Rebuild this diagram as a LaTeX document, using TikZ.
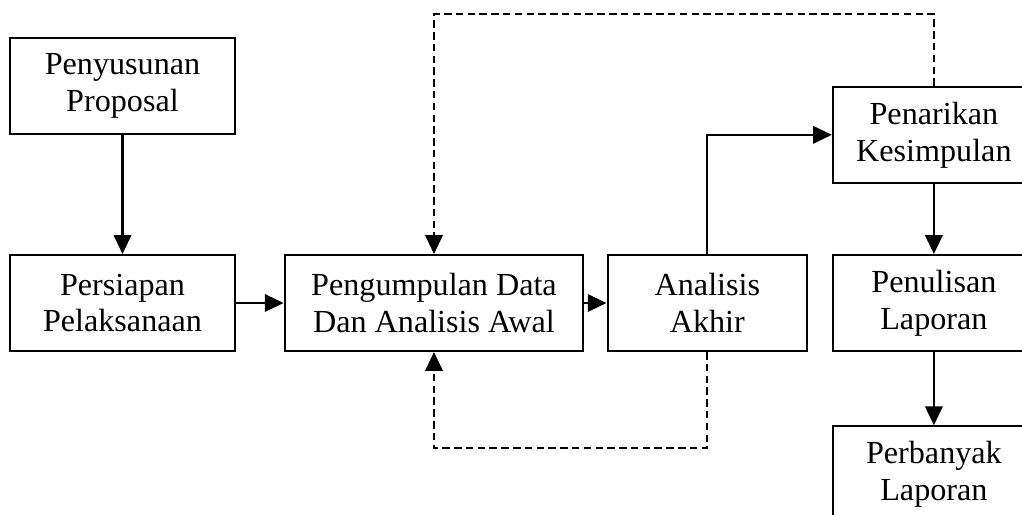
\documentclass[tikz,border=0pt]{standalone}
\usepackage{fontspec}
\setmainfont{Liberation Serif}
\usepackage{tikz}
\usetikzlibrary{arrows.meta,positioning,calc}
\tikzset{
  stepbox/.style={rectangle,draw=black,line width=0.75pt,fill=white,minimum width=2.96cm,minimum height=1.26cm,align=center,font=\fontsize{12}{13.8}\selectfont},
  arrow/.style={-{Triangle[length=7pt,width=6.5pt]},line width=0.75pt},
  back/.style={-{Triangle[length=7pt,width=6.5pt]},line width=0.75pt,dash pattern=on 2.8pt off 1.6pt}
}
\begin{document}
\begin{tikzpicture}[node distance=0.92cm and 0.29cm]
  \useasboundingbox (-1.607,-2.768) rectangle (11.80,3.975);
  \node[stepbox] (persiapan) at (0,0) {Persiapan\\Pelaksanaan};
  \node[stepbox, above=1.56cm of persiapan] (proposal) {Penyusunan\\Proposal};
  \node[stepbox, minimum width=3.92cm, right=0.62cm of persiapan] (pengumpulan) {Pengumpulan Data\\Dan Analisis Awal};
  \node[stepbox, minimum width=2.62cm, right=of pengumpulan] (akhir) {Analisis\\Akhir};
  \node[stepbox, minimum width=2.65cm, right=0.31cm of akhir] (penulisan) {Penulisan\\Laporan};
  \node[stepbox, minimum width=2.65cm, above=of penulisan] (penarikan) {Penarikan\\Kesimpulan};
  \node[stepbox, minimum width=2.65cm, below=0.96cm of penulisan] (perbanyak) {Perbanyak\\Laporan};
  \draw[arrow] (proposal) -- (persiapan);
  \draw[arrow] (persiapan) -- (pengumpulan);
  \draw[arrow] (pengumpulan) -- (akhir);
  \draw[arrow] (akhir.north) |- (penarikan.west);
  \draw[arrow] (penarikan) -- (penulisan);
  \draw[arrow] (penulisan) -- (perbanyak);
  \draw[back] (penarikan.north) -- ++(0,0.94) -| (pengumpulan.north);
  \draw[back] (akhir.south) -- ++(0,-1.26) -| (pengumpulan.south);
\end{tikzpicture}
\end{document}
